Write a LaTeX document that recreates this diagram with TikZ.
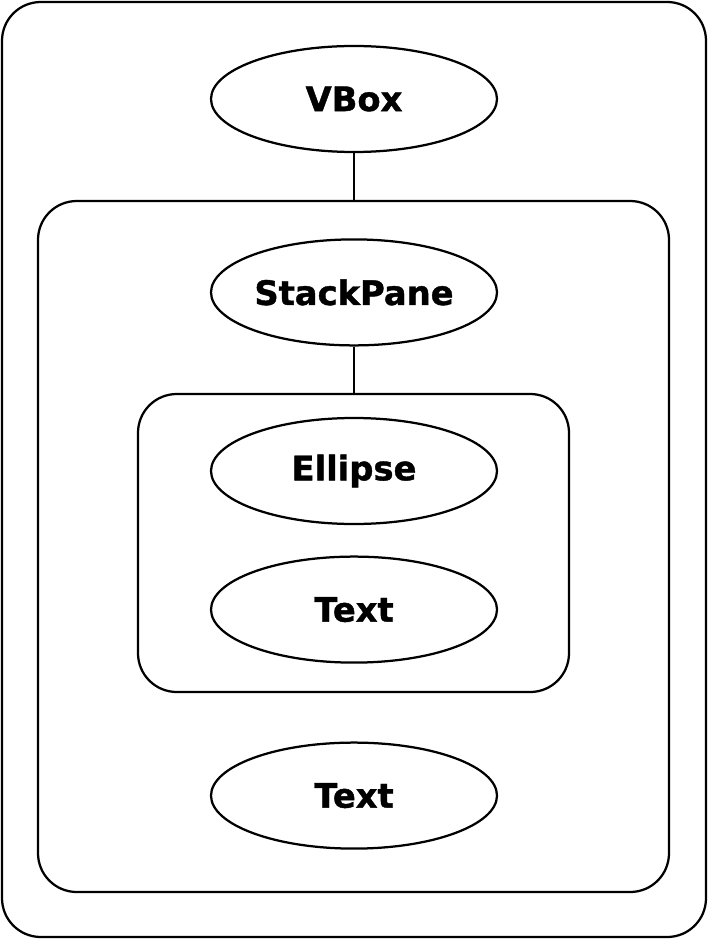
\documentclass[tikz,border=0pt]{standalone}
\usepackage{fontspec}
\setmainfont{DejaVu Sans}[BoldFeatures={FakeBold=1.2}]
\usetikzlibrary{shapes.geometric}

\tikzset{
  ctrl/.style={draw, ellipse, line width=1.6pt, minimum width=7.15cm, minimum height=2.65cm, inner sep=0pt, font=\bfseries\fontsize{24}{28}\selectfont},
  pane/.style={line width=1.6pt, rounded corners=0.97cm}
}

\begin{document}
\begin{tikzpicture}

\useasboundingbox (0,0) rectangle (17.7,-23.475);

% containers
\draw [pane] (0.05,-0.05) rectangle (17.65,-23.425);
\draw [pane] (0.95,-5.025) rectangle (16.725,-22.3);
\draw [pane] (3.45,-9.85) rectangle (14.225,-17.3);

\coordinate (vboxtop) at (8.85,-5.025);
\coordinate (stacktop) at (8.85,-9.85);

\node [ctrl] (vbox) at (8.85,-2.475) {VBox};
\node [ctrl] (stack) at (8.85,-7.31) {StackPane};
\node [ctrl] (ellipse) at (8.85,-11.775) {Ellipse};
\node [ctrl] (text1) at (8.85,-15.24) {Text};
\node [ctrl] (text2) at (8.85,-19.89) {Text};

\draw [line width=1.6pt] (vbox) -- (vboxtop);
\draw [line width=1.6pt] (stack) -- (stacktop);

\end{tikzpicture}
\end{document}
